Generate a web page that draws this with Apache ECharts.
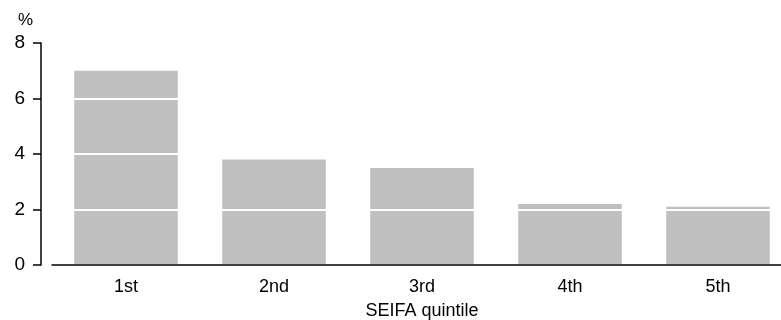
<!DOCTYPE html>
<html><head><meta charset="utf-8">
<script src="https://cdn.jsdelivr.net/npm/echarts@6/dist/echarts.min.js"></script>
<style>html,body{margin:0;padding:0;background:#fff}#c{width:781px;height:320px}</style>
</head><body><div id="c"></div>
<script>
var categories = ['1st', '2nd', '3rd', '4th', '5th'];
var values = [7.0, 3.8, 3.5, 2.2, 2.1];
var yTicks = [0, 2, 4, 6, 8];
var font = '"Liberation Sans", Arial, sans-serif';
var chart = echarts.init(document.getElementById('c'), null, {renderer: 'canvas'});
chart.setOption({
  animation: false,
  grid: {left: 52, right: -11, top: 43, bottom: 55, containLabel: false, outerBoundsMode: 'none'},
  graphic: [
    {type: 'text', left: 18, top: 12, style: {text: '%', font: '17px ' + font, fill: '#000'}}
  ],
  xAxis: {
    type: 'category', data: categories, z: 5,
    name: 'SEIFA quintile', nameLocation: 'middle', nameGap: 37,
    nameTextStyle: {color: '#000', fontSize: 18, fontFamily: font},
    axisLine: {lineStyle: {color: '#000', width: 1.5}},
    axisTick: {alignWithLabel: true, length: 6, lineStyle: {color: '#000', width: 1.5}},
    axisLabel: {color: '#000', fontSize: 18, fontFamily: font, margin: 13}
  },
  yAxis: {
    type: 'value', min: yTicks[0], max: yTicks[yTicks.length - 1], interval: 2, offset: 11, z: 5,
    axisLine: {show: true, lineStyle: {color: '#000', width: 1.5}},
    axisTick: {show: true, length: 8, lineStyle: {color: '#000', width: 1.5}},
    axisLabel: {color: '#000', fontSize: 19, fontFamily: font, margin: 16},
    splitLine: {show: true, lineStyle: {color: '#fff', width: 2}}
  },
  series: [{
    type: 'bar', data: values, barWidth: '70%', z: 2,
    itemStyle: {color: '#c0c0c0'}
  }]
});
</script></body></html>
